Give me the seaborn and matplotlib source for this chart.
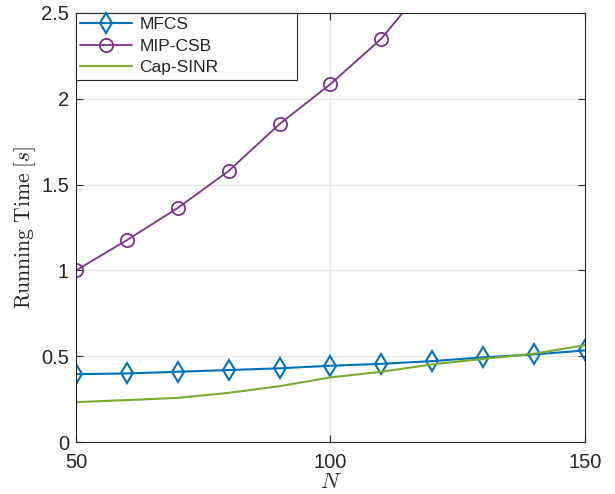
import matplotlib
matplotlib.use("Agg")
import matplotlib.pyplot as plt
import seaborn as sns
import pandas as pd

N = [50, 60, 70, 80, 90, 100, 110, 120, 130, 140, 150]
mfcs = [0.396, 0.400, 0.410, 0.420, 0.430, 0.445, 0.456, 0.472, 0.494, 0.511, 0.534]
mip_csb = [1.00, 1.177, 1.364, 1.58, 1.853, 2.086, 2.35, 2.71, 3.10, 3.50, 3.95]
cap_sinr = [0.233, 0.245, 0.258, 0.287, 0.326, 0.377, 0.410, 0.453, 0.485, 0.515, 0.565]

sns.set_theme(style="white")
plt.rcParams['font.family'] = ['Liberation Sans', 'DejaVu Sans']
plt.rcParams['mathtext.fontset'] = 'cm'

fig = plt.figure(figsize=(6.15, 4.94), dpi=100)
ax = fig.add_axes([0.1236, 0.105, 0.951 - 0.1236, 0.9737 - 0.105])

df = pd.DataFrame({"N": N, "MFCS": mfcs, "MIP-CSB": mip_csb, "Cap-SINR": cap_sinr})

sns.lineplot(data=df, x="N", y="MFCS", ax=ax, color="#0072BD", marker="d",
             markersize=10.2, markerfacecolor="none", markeredgecolor="#0072BD",
             markeredgewidth=1.5, linewidth=1.5, label="MFCS")
sns.lineplot(data=df, x="N", y="MIP-CSB", ax=ax, color="#7E2F8E", marker="o",
             markersize=9.5, markerfacecolor="none", markeredgecolor="#7E2F8E",
             markeredgewidth=1.3, linewidth=1.3, label="MIP-CSB")
sns.lineplot(data=df, x="N", y="Cap-SINR", ax=ax, color="#77AC30",
             linewidth=1.5, label="Cap-SINR")

ax.set_xlim(50, 150)
ax.set_ylim(0, 2.5)
ax.set_xticks([50, 100, 150])
ax.set_yticks([0, 0.5, 1, 1.5, 2, 2.5])
ax.set_yticklabels(["0", "0.5", "1", "1.5", "2", "2.5"])
ax.grid(True, color="#e6e6e6", linewidth=0.8)
ax.set_axisbelow(True)
for s in ax.spines.values():
    s.set_color("#262626")
    s.set_linewidth(0.8)
ax.tick_params(direction="in", length=5, width=0.8, colors="#262626",
               labelsize=14.5, top=True, right=True, bottom=True, left=True,
               labelcolor="#262626")
ax.tick_params(axis="x", pad=8)
ax.tick_params(axis="y", pad=5)
ax.set_xlabel(r"$N$", fontsize=16, labelpad=0)
ax.set_ylabel(r"$\mathrm{Running\ Time}\ [s]$", fontsize=15.5, labelpad=2)

leg = ax.legend(loc="upper left", bbox_to_anchor=(0, 0.5, 0.434, 0.5),
                mode="expand", borderaxespad=0,
                fontsize=12.5, frameon=True, fancybox=False, handlelength=3.0,
                borderpad=0.25, labelspacing=0.36, handletextpad=0.4)
leg.get_frame().set_edgecolor("#262626")
leg.get_frame().set_linewidth(0.8)
leg.get_frame().set_alpha(1)

fig.savefig("out.png", dpi=100)
